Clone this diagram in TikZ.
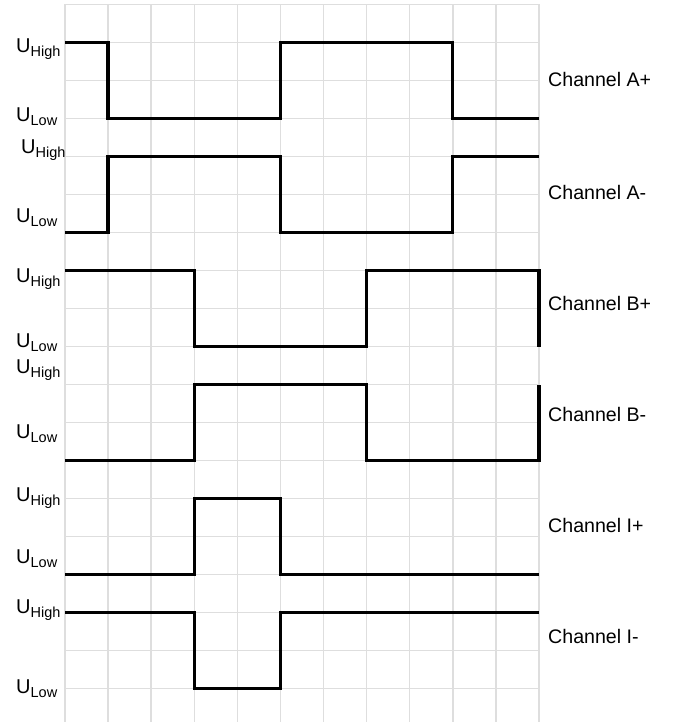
\documentclass[tikz,border=0pt]{standalone}
\usepackage{fontspec}
\setmainfont{Liberation Sans}
\newcommand\myUH{U\raisebox{-4pt}{\fontsize{14.5}{15}\selectfont High}}
\newcommand\myUL{U\raisebox{-4pt}{\fontsize{14.5}{15}\selectfont Low}}
\begin{document}
\begin{tikzpicture}[x=1pt,y=-1pt,
  gridline/.style={draw=black!13, line width=1.4pt},
  signal/.style={draw=black, line width=3.3pt, line join=miter},
  ulabel/.style={anchor=base west, inner sep=0pt, font=\fontsize{20}{22}\selectfont},
  chlabel/.style={anchor=base west, inner sep=0pt, font=\fontsize{19.6}{22}\selectfont}]
\useasboundingbox (0,0) rectangle (674,722);
\fill[white] (0,0) rectangle (674,722);
% grid
\foreach \i in {0,...,11} \draw[gridline] ({65+43.09*\i},4.5) -- ({65+43.09*\i},722);
\foreach \j in {0,...,18} \draw[gridline] (65,{4.5+38*\j}) -- (539,{4.5+38*\j});
% signals
\draw[signal] (65,42.5) -| (108.1,118.5) -| (280.5,42.5) -| (452.8,118.5) -- (539,118.5);
\draw[signal] (65,232.5) -| (108.1,156.5) -| (280.5,232.5) -| (452.8,156.5) -- (539,156.5);
\draw[signal] (65,270.5) -| (194.3,346.5) -| (366.6,270.5) -| (539,346.5);
\draw[signal] (65,460.5) -| (194.3,384.5) -| (366.6,460.5) -| (539,384.5);
\draw[signal] (65,574.5) -| (194.3,498.5) -| (280.5,574.5) -- (539,574.5);
\draw[signal] (65,612.5) -| (194.3,688.5) -| (280.5,612.5) -- (539,612.5);
% level labels
\node[ulabel] (uhA) at (16,53) {\myUH};
\node[ulabel] (ulA) at (16,122) {\myUL};
\node[ulabel] (uhAm) at (21,154) {\myUH};
\node[ulabel] (ulAm) at (16,222) {\myUL};
\node[ulabel] (uhB) at (16,282) {\myUH};
\node[ulabel] (ulB) at (16,347) {\myUL};
\node[ulabel] (uhBm) at (16,373) {\myUH};
\node[ulabel] (ulBm) at (16,438) {\myUL};
\node[ulabel] (uhI) at (16,501) {\myUH};
\node[ulabel] (ulI) at (16,563) {\myUL};
\node[ulabel] (uhIm) at (16,613) {\myUH};
\node[ulabel] (ulIm) at (16,693) {\myUL};
% channel labels
\node[chlabel] (chAp) at (548,87) {Channel A+};
\node[chlabel] (chAm) at (548,199) {Channel A-};
\node[chlabel] (chBp) at (548,310) {Channel B+};
\node[chlabel] (chBm) at (548,421) {Channel B-};
\node[chlabel] (chIp) at (548,532) {Channel I+};
\node[chlabel] (chIm) at (548,643) {Channel I-};
\end{tikzpicture}
\end{document}
